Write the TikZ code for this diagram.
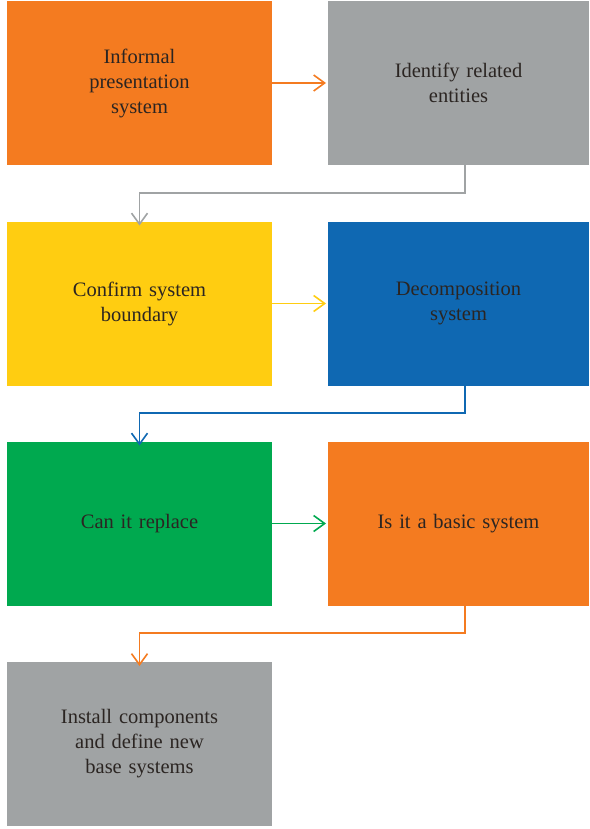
\documentclass[tikz,border=0pt]{standalone}
\usepackage{fontspec}
\setmainfont{Liberation Serif}
\usetikzlibrary{arrows.meta}
\definecolor{corange}{HTML}{F47B20}
\definecolor{cgray}{HTML}{A0A3A4}
\definecolor{cyellow}{HTML}{FFCD11}
\definecolor{cblue}{HTML}{0F68B2}
\definecolor{cgreen}{HTML}{00A94F}
\definecolor{ctext}{HTML}{2B2522}
\begin{document}
\begin{tikzpicture}[x=1pt,y=-1pt,
  box/.style={minimum height=164pt,inner sep=0pt,outer sep=0pt,
    text width=230pt,align=center,text=ctext,font=\fontsize{20.5}{25}\selectfont},
  lbox/.style={box,minimum width=265pt},
  rbox/.style={box,minimum width=261pt},
  conn/.style={line width=1.6pt,-{Straight Barb[length=11pt,width=16pt,line width=1.6pt]}}]
\useasboundingbox (0,0) rectangle (589,829);
\node[lbox,fill=corange] (a) at (139.5,83) {Informal\\presentation\\system};
\node[rbox,fill=cgray] (b) at (458.5,83) {Identify related\\entities};
\node[lbox,fill=cyellow] (c) at (139.5,303.5) {Confirm system\\boundary};
\node[rbox,fill=cblue] (d) at (458.5,303.5) {Decomposition\\system};
\node[lbox,fill=cgreen] (e) at (139.5,523.5) {Can it replace};
\node[rbox,fill=corange] (f) at (458.5,523.5) {Is it a basic system};
\node[lbox,fill=cgray] (g) at (139.5,744) {Install components\\and define new\\base systems};
\coordinate (b1) at (465,193);
\coordinate (b2) at (139.5,193);
\coordinate (d1) at (465,413);
\coordinate (d2) at (139.5,413);
\coordinate (f1) at (465,633);
\coordinate (f2) at (139.5,633);
\draw[conn,corange] (a.east) -- ([xshift=-2pt]b.west);
\draw[conn,cyellow] (c.east) -- ([xshift=-2pt]d.west);
\draw[conn,cgreen] (e.east) -- ([xshift=-2pt]f.west);
\draw[conn,cgray] (b.south -| b1) -- (b1) -- (b2) -- ([yshift=-4pt]c.north);
\draw[conn,cblue] (d.south -| d1) -- (d1) -- (d2) -- ([yshift=-4pt]e.north);
\draw[conn,corange] (f.south -| f1) -- (f1) -- (f2) -- ([yshift=-4pt]g.north);
\end{tikzpicture}
\end{document}
